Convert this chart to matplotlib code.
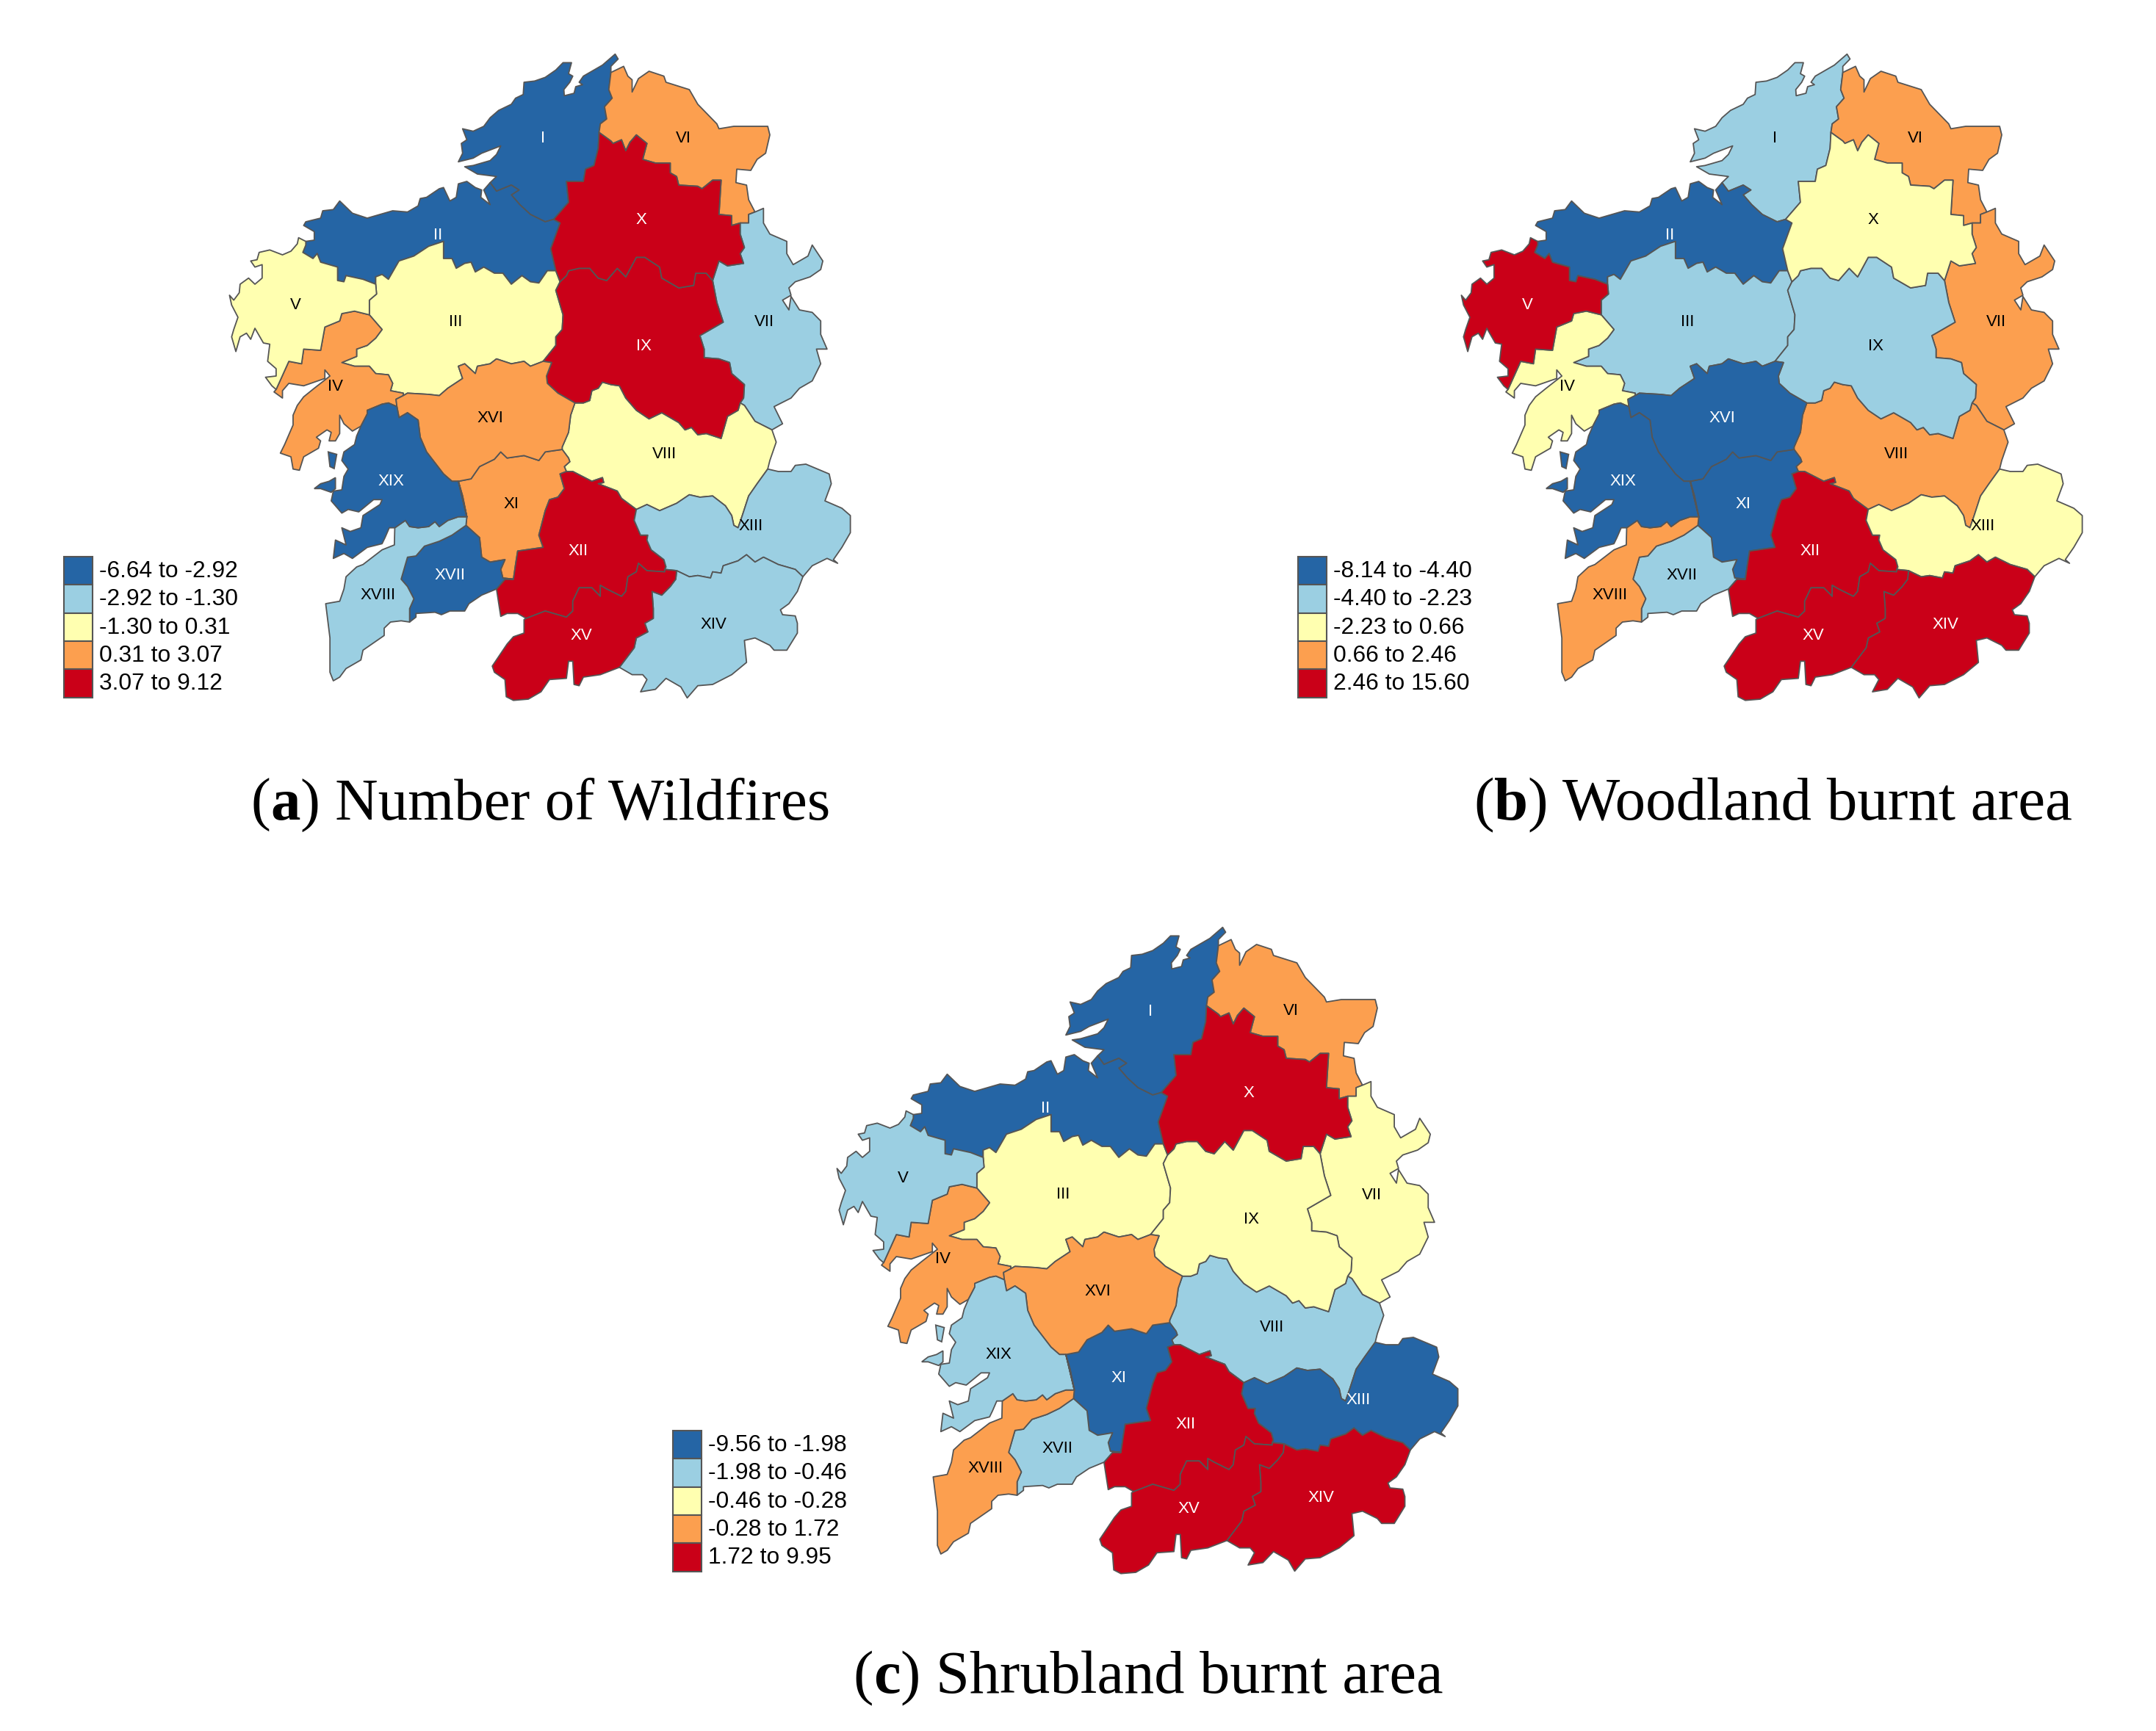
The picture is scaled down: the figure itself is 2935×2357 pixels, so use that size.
import matplotlib
matplotlib.use("Agg")
import matplotlib.pyplot as plt
from matplotlib.patches import Rectangle

W, H = 2935, 2357

# outlines, units of the traced map (x, y down)
coast_I = [(925,110),(925,85),(942,55),(935,35),(905,80),(880,105),(860,125),(850,150),(858,160),(842,168),(838,195),(815,205),(814,180),(828,150),(835,125),(825,115),(832,70),(812,70),(795,100),(770,130),(745,145),(720,150),(718,200),(700,215),(690,240),(660,265),(640,295),(625,330),(600,350),(575,340),(585,385),(572,400),(575,440),(565,475),(600,460),(620,440),(665,410),(655,445),(640,470),(600,490),(580,495),(610,525),(655,535),(640,560)]
I_VI = [(925,110),(920,180),(928,215),(910,250),(915,300),(900,320),(897,355)]
I_X = [(897,355),(895,420),(885,490),(865,505),(860,555),(820,555),(825,640),(810,670),(790,710)]
I_II = [(790,710),(770,720),(735,690),(710,650),(690,610),(708,590),(690,570),(655,595),(640,560)]
coast_II = [(640,560),(625,590),(640,650),(618,620),(620,590),(605,580),(585,555),(565,565),(560,620),(545,635),(530,580),(520,585),(490,620),(475,625),(470,655),(445,680),(410,675),(350,705),(315,685),(285,635),(270,670),(245,675),(240,705),(205,720),(200,735),(225,760),(225,795),(205,800)]
II_V = [(205,800),(205,815),(198,845),(222,870),(232,850),(240,885),(280,905),(280,960),(295,965),(300,940),(340,955),(370,975)]
II_III = [(370,975),(370,945),(385,935),(400,955),(425,880),(460,860),(495,820),(530,800),(530,870),(550,870),(560,910),(580,890),(595,885),(605,925),(625,905),(650,930),(670,930),(690,975),(715,940),(735,965),(755,970),(775,920),(795,920)]
II_X = [(795,920),(783,830),(805,725),(790,710)]
coast_V = [(205,800),(188,785),(185,810),(170,840),(150,855),(120,835),(95,845),(90,875),(75,880),(85,905),(102,895),(102,950),(85,975),(70,950),(50,975),(48,1010),(35,1040),(25,1020),(30,1060),(45,1110),(35,1160),(30,1190),(40,1250),(50,1190),(65,1175),(75,1200),(85,1155),(105,1215),(120,1220),(115,1290),(135,1320),(135,1350),(110,1355),(125,1390),(135,1405)]
IV_V = [(135,1405),(165,1290),(195,1300),(200,1240),(240,1245),(250,1150),(285,1125),(290,1095),(320,1085),(355,1100)]
III_V = [(370,975),(372,1015),(355,1040),(355,1100)]
X_III = [(795,920),(805,965)]
III_IX = [(805,965),(795,1000),(812,1100),(810,1160),(795,1190),(795,1225),(765,1290)]
III_XVI = [(765,1290),(735,1310),(720,1290),(690,1300),(655,1280),(640,1300),(610,1310),(605,1340),(580,1300),(565,1310),(575,1360),(540,1400),(520,1430),(495,1425),(445,1420),(435,1430)]
III_IV = [(355,1100),(385,1160),(370,1195),(350,1225),(325,1240),(325,1270),(290,1295),(320,1310),(355,1310),(370,1340),(400,1345),(410,1380),(405,1410),(435,1420),(435,1430)]
coast_IV = [(135,1405),(130,1415),(150,1440),(150,1410),(165,1380),(200,1390),(250,1360),(250,1325),(262,1350),(225,1400),(200,1435),(185,1470),(175,1510),(175,1550),(155,1630),(145,1665),(170,1680),(175,1730),(190,1735),(200,1680),(235,1645),(240,1615),(230,1600),(255,1570),(265,1580),(260,1615),(275,1615),(285,1585),(285,1510),(295,1545),(315,1575),(335,1555)]
IV_XIX = [(335,1555),(350,1505),(350,1490),(385,1465),(400,1460),(420,1475)]
IV_XVI = [(420,1475),(418,1445),(435,1430)]
coast_VI = [(925,110),(955,85),(965,125),(975,140),(975,190),(990,135),(1015,105),(1050,125),(1055,150),(1110,180),(1130,240),(1175,320),(1180,340),(1215,330),(1295,330),(1300,365),(1290,440),(1270,465),(1255,510),(1222,505),(1220,560),(1245,570),(1250,630),(1265,680)]
VI_VII = [(1265,680),(1250,690),(1250,725),(1230,725)]
VI_X = [(897,355),(925,390),(930,400),(950,385),(960,430),(970,395),(985,365),(1010,400),(1000,465),(1030,480),(1065,480),(1065,520),(1080,535),(1085,570),(1130,575),(1140,585),(1165,550),(1185,550),(1180,690),(1210,695),(1210,735),(1230,725)]
VII_X = [(1230,725),(1230,770),(1240,825),(1230,850),(1238,890),(1200,900),(1180,880),(1165,960)]
IX_X = [(805,965),(820,940),(825,920),(850,910),(875,910),(895,950),(915,960),(940,910),(960,945),(985,865),(1005,865),(1040,905),(1045,950),(1085,990),(1120,980),(1125,930),(1150,930),(1165,960)]
coast_VII = [(1265,680),(1285,665),(1285,725),(1300,770),(1340,800),(1340,850),(1355,895),(1390,860),(1400,815),(1425,880),(1420,915),(1395,945),(1360,965),(1345,990),(1350,1020),(1330,1040),(1345,1080),(1350,1025),(1370,1080),(1400,1090),(1420,1125),(1420,1180),(1435,1240),(1410,1240),(1420,1300),(1400,1370),(1370,1400),(1350,1440),(1310,1475),(1330,1545),(1305,1570)]
VII_VIII = [(1305,1570),(1265,1535),(1240,1470),(1230,1460)]
VII_IX = [(1165,960),(1175,1050),(1190,1130),(1165,1155),(1135,1185),(1145,1240),(1145,1275),(1180,1280),(1205,1295),(1210,1340),(1240,1385),(1238,1440),(1230,1460)]
VIII_IX = [(1230,1460),(1225,1490),(1200,1515),(1185,1605),(1150,1585),(1130,1590),(1115,1560),(1100,1570),(1085,1540),(1045,1500),(1015,1525),(985,1490),(960,1440),(945,1390),(925,1385),(905,1375),(895,1400),(880,1410),(875,1450),(860,1460),(840,1460)]
IX_XVI = [(840,1460),(800,1420),(775,1380),(773,1350),(785,1295),(765,1290)]
XVI_XIX = [(420,1475),(425,1520),(445,1500),(470,1530),(475,1600),(490,1660),(530,1750),(550,1780),(565,1780)]
XI_XVI = [(565,1780),(595,1770),(615,1720),(650,1690),(665,1660),(680,1685),(720,1675),(755,1695),(770,1660),(810,1650)]
VIII_XVI = [(810,1650),(810,1640),(825,1580),(830,1510),(840,1460)]
VIII_XI = [(810,1650),(825,1685),(828,1700),(815,1720),(820,1740)]
VIII_XII = [(820,1740),(835,1740),(880,1780),(905,1765),(908,1785),(895,1790),(940,1820),(950,1850),(985,1895)]
VIII_XIII = [(985,1895),(1010,1875),(1040,1900),(1080,1870),(1110,1835),(1135,1845),(1165,1840),(1195,1880),(1210,1920),(1215,1960),(1225,1970),(1235,1920),(1250,1840),(1270,1790),(1295,1730)]
coast_VIII = [(1305,1570),(1315,1620),(1300,1695),(1295,1730)]
XI_XII = [(820,1740),(805,1750),(815,1810),(800,1845),(780,1855),(770,1900),(755,2000),(765,2050),(705,2065),(700,2120),(695,2180)]
XI_XVII = [(695,2180),(670,2175),(665,2140),(675,2100),(640,2110),(620,2090),(615,2010),(583,1960)]
XI_XVIII = [(583,1960),(585,1925)]
XI_XIX = [(585,1925),(575,1840),(565,1780)]
XII_XIII = [(985,1895),(980,1940),(995,2000),(1012,2000),(1010,2020),(1020,2060),(1050,2100),(1055,2130),(1052,2140)]
XIII_XV = [(1080,2145),(1052,2140)]
XII_XV = [(1052,2140),(1052,2150),(1010,2145),(990,2115),(985,2150),(965,2170),(960,2230),(950,2250),(915,2220),(900,2205),(900,2250),(880,2215),(850,2215),(835,2270),(835,2310),(820,2335),(770,2310),(725,2340)]
coast_XII = [(725,2340),(705,2320),(680,2320),(665,2332),(655,2220)]
XII_XVII = [(655,2220),(675,2180),(695,2180)]
coast_XIII = [(1295,1730),(1320,1740),(1350,1740),(1360,1715),(1385,1710),(1440,1750),(1445,1790),(1430,1860),(1470,1890),(1490,1920),(1490,1990),(1470,2050),(1450,2100),(1460,2115),(1435,2095),(1400,2125),(1378,2170)]
XIII_XIV = [(1378,2170),(1360,2140),(1320,2120),(1285,2090),(1265,2110),(1245,2080),(1225,2105),(1190,2125),(1185,2155),(1165,2150),(1160,2175),(1130,2165),(1110,2170),(1080,2145)]
XIV_XV = [(945,2540),(980,2460),(985,2420),(1012,2395),(1005,2360),(1025,2340),(1025,2300),(1022,2230),(1045,2245),(1065,2210),(1078,2180),(1080,2145)]
coast_XIV = [(1378,2170),(1365,2230),(1345,2280),(1325,2305),(1330,2325),(1360,2330),(1365,2360),(1365,2400),(1340,2470),(1310,2470),(1300,2450),(1265,2420),(1240,2430),(1245,2520),(1210,2570),(1165,2610),(1130,2615),(1105,2665),(1090,2620),(1055,2585),(1030,2630),(995,2640),(1010,2590),(1000,2570),(975,2570),(945,2540)]
coast_XV = [(945,2540),(900,2570),(860,2580),(850,2615),(838,2610),(835,2515),(825,2515),(820,2585),(780,2590),(760,2640),(730,2670),(695,2675),(678,2660),(675,2590),(650,2560),(645,2535),(680,2445),(695,2415),(720,2400),(720,2345),(725,2340)]
XVII_XVIII = [(583,1960),(550,2000),(520,2025),(485,2045),(465,2085),(445,2090),(430,2180),(445,2210),(460,2260),(450,2300),(450,2355)]
coast_XVII = [(450,2355),(465,2335),(465,2320),(510,2315),(525,2325),(545,2310),(580,2310),(590,2280),(620,2245),(655,2220)]
coast_XVIII = [(415,1970),(414,2040),(385,2060),(340,2120),(325,2130),(300,2170),(295,2220),(285,2270),(252,2280),(262,2420),(262,2560),(270,2595),(285,2580),(300,2545),(335,2510),(340,2470),(390,2410),(390,2380),(405,2355),(430,2350),(450,2355)]
XVIII_XIX = [(415,1970),(440,1940),(450,1965),(470,1970),(495,1965),(510,1945),(520,1965),(540,1940),(565,1925),(585,1925)]
coast_XIX = [(335,1555),(325,1595),(320,1630),(295,1660),(290,1695),(305,1730),(295,1760),(290,1815),(270,1820),(265,1860),(290,1910),(305,1895),(330,1905),(365,1855),(385,1855),(380,1875),(340,1920),(335,1970),(310,1985),(290,1970),(300,2040),(275,2020),(270,2095),(295,2075),(315,2095),(350,2050),(385,2035),(392,2010),(402,1970),(415,1970)]
island_a = [(258,1660),(278,1670),(272,1728),(262,1720)]
island_b = [(225,1810),(240,1790),(260,1780),(275,1765),(275,1810),(265,1825),(240,1810)]

region_names = ["I","II","III","IV","V","VI","VII","VIII","IX","X","XI","XII","XIII","XIV","XV","XVI","XVII","XVIII","XIX"]
label_x = [765,517,558,275,180,1097,1287,1052,1003,997,690,847,1255,1168,855,640,545,375,407]
label_y = [380,775,1128,1392,1060,378,1130,1670,1228,713,1875,2065,1965,2365,2410,1523,2165,2245,1780]

# legend class of each region, same order as region_names
wildfires_class = [0,0,2,3,2,3,1,2,4,4,3,4,1,1,4,3,0,1,0]
woodland_class = [1,0,1,2,4,3,3,3,1,2,0,4,2,4,4,0,1,3,0]
shrubland_class = [0,0,2,3,1,3,2,1,2,4,0,4,0,4,4,3,1,3,1]

wildfires_legend = ["-6.64 to -2.92","-2.92 to -1.30","-1.30 to 0.31","0.31 to 3.07","3.07 to 9.12"]
woodland_legend = ["-8.14 to -4.40","-4.40 to -2.23","-2.23 to 0.66","0.66 to 2.46","2.46 to 15.60"]
shrubland_legend = ["-9.56 to -1.98","-1.98 to -0.46","-0.46 to -0.28","-0.28 to 1.72","1.72 to 9.95"]

colors = ["#2565A5","#9BCFE2","#FFFFB0","#FC9F4F","#CA0018"]
edge = "#555555"

r = lambda a: a[::-1]
rings = [
    coast_I + r(I_II) + r(I_X) + r(I_VI),
    I_II + coast_II + II_V + II_III + II_X,
    II_III + X_III + III_IX + III_XVI + r(III_IV) + r(III_V),
    coast_IV + IV_XIX + IV_XVI + r(III_IV) + r(IV_V),
    coast_V + IV_V + r(III_V) + r(II_V),
    r(I_VI) + coast_VI + VI_VII + r(VI_X),
    coast_VII + VII_VIII + r(VII_IX) + r(VII_X) + r(VI_VII),
    r(VIII_IX) + r(VII_VIII) + coast_VIII + r(VIII_XIII) + r(VIII_XII) + r(VIII_XI) + VIII_XVI,
    IX_X + VII_IX + VIII_IX + IX_XVI + r(III_IX),
    VI_X + VII_X + r(IX_X) + r(X_III) + II_X + r(I_X),
    XI_XVI + VIII_XI + XI_XII + XI_XVII + XI_XVIII + XI_XIX,
    VIII_XII + XII_XIII + XII_XV + coast_XII + XII_XVII + r(XI_XII),
    VIII_XIII + coast_XIII + XIII_XIV + XIII_XV + r(XII_XIII),
    r(XIII_XIV) + coast_XIV + XIV_XV,
    r(XII_XV) + r(XIII_XV) + r(XIV_XV) + coast_XV,
    III_XVI + r(IV_XVI) + XVI_XIX + XI_XVI + VIII_XVI + IX_XVI,
    XI_XVII + XVII_XVIII + coast_XVII + XII_XVII,
    XI_XVIII + r(XVIII_XIX) + coast_XVIII + r(XVII_XVIII),
    r(IV_XIX) + coast_XIX + XVIII_XIX + r(XI_XIX) + r(XVI_XIX),
]

fig = plt.figure(figsize=(W/100, H/100), dpi=100, facecolor="white")


def draw_map(ox, oy, classes):
    ax = fig.add_axes([ox/W, 1-(oy+960)/H, 900/W, 960/H])
    ax.set_xlim(0, 1560)
    ax.set_ylim(2880, 0)
    ax.axis("off")
    for i, ring in enumerate(rings):
        ax.fill([p[0] for p in ring], [p[1] for p in ring], facecolor=colors[classes[i]],
                edgecolor=edge, linewidth=1.3, joinstyle="round")
    for isl in [island_a, island_b]:
        ax.fill([p[0] for p in isl], [p[1] for p in isl], facecolor=colors[classes[18]],
                edgecolor=edge, linewidth=1.3)
    for i, name in enumerate(region_names):
        c = "white" if classes[i] in (0, 4) else "black"
        ax.text(label_x[i], label_y[i], name, color=c, fontsize=16, family="Liberation Sans",
                ha="center", va="center")


draw_map(298, 62, wildfires_class)
draw_map(1975, 62, woodland_class)
draw_map(1125, 1251, shrubland_class)

# overlay in picture pixels for legends and captions
over = fig.add_axes([0, 0, 1, 1])
over.set_xlim(0, W)
over.set_ylim(H, 0)
over.axis("off")


def legend(x, y, labels):
    for i, lab in enumerate(labels):
        over.add_patch(Rectangle((x, y+i*38.3), 38.5, 38.3, facecolor=colors[i], edgecolor=edge, linewidth=1.5))
        over.text(x+48, y+i*38.3+20, lab, fontsize=22.9, family="Liberation Sans", va="center", ha="left")


legend(87, 758, wildfires_legend)
legend(1767, 758, woodland_legend)
legend(916, 1948, shrubland_legend)


def caption(xc, y, letter, rest, size):
    rend = fig.canvas.get_renderer()
    pieces = [("(", "normal"), (letter, "bold"), (") " + rest, "normal")]
    arts = [over.text(0, y, s, fontsize=size, family="Liberation Serif", weight=w, va="baseline") for s, w in pieces]
    widths = [a.get_window_extent(rend).width for a in arts]
    x = xc - sum(widths)/2
    for a, wd in zip(arts, widths):
        a.set_x(x)
        x += wd


caption(736, 1116, "a", "Number of Wildfires", 58.2)
caption(2414, 1116, "b", "Woodland burnt area", 59.8)
caption(1563, 2305, "c", "Shrubland burnt area", 59.3)

fig.savefig("out.png", dpi=100)
